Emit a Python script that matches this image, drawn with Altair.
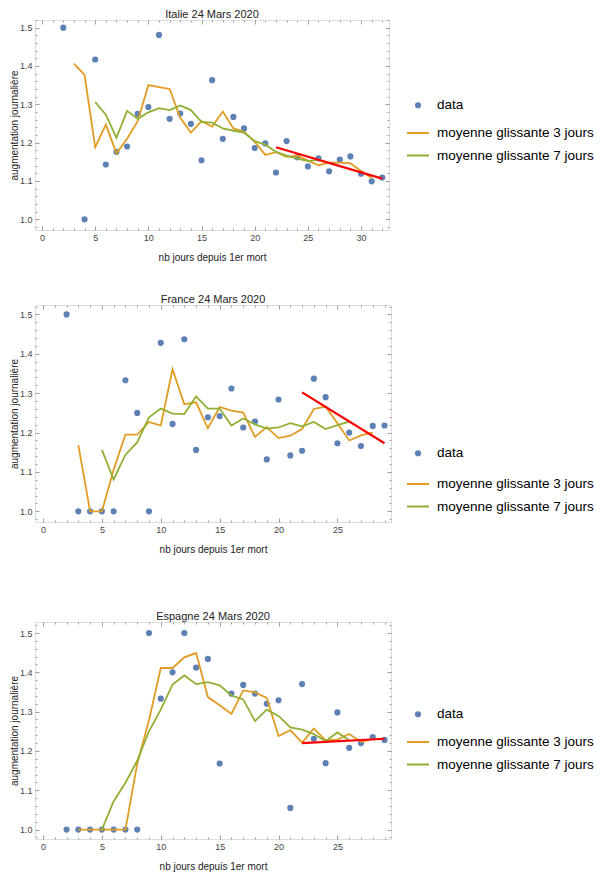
import altair as alt
import pandas as pd

FONT = "Liberation Sans"
C_DATA = "#5E81B5"
C_M3 = "#E19C24"
C_M7 = "#8FB032"
C_FIT = "#FF0000"
L_DATA = "data"
L_M3 = "moyenne glissante 3 jours"
L_M7 = "moyenne glissante 7 jours"
X_TITLE = "nb jours depuis 1er mort"
Y_TITLE = "augmentation journalière"

# ---------------- Italie ----------------
it_x = [2, 4] + list(range(5, 33))
it_y = [1.500, 1.000, 1.417, 1.143, 1.176, 1.190, 1.275, 1.293, 1.481, 1.262,
        1.276, 1.249, 1.154, 1.363, 1.210, 1.267, 1.237, 1.186, 1.198, 1.122,
        1.204, 1.162, 1.138, 1.159, 1.125, 1.156, 1.164, 1.119, 1.099, 1.109]
it_m3_x = list(range(3, 32))
it_m3_y = [1.406, 1.377, 1.188, 1.247, 1.172, 1.210, 1.256, 1.350, 1.345, 1.340,
           1.265, 1.226, 1.256, 1.242, 1.281, 1.237, 1.228, 1.202, 1.168, 1.175,
           1.163, 1.166, 1.153, 1.141, 1.148, 1.148, 1.146, 1.126, 1.108]
it_m7_x = list(range(5, 29))
it_m7_y = [1.306, 1.273, 1.213, 1.283, 1.262, 1.279, 1.290, 1.285, 1.297, 1.285,
           1.254, 1.252, 1.237, 1.231, 1.226, 1.204, 1.195, 1.176, 1.166, 1.158,
           1.152, 1.155, 1.147, 1.139]
it_fit_x = [22, 32]
it_fit_y = [1.188, 1.106]

# ---------------- France ----------------
fr_x = list(range(2, 30))
fr_y = [1.500, 1.000, 1.000, 1.000, 1.000, 1.333, 1.250, 1.000, 1.428, 1.222,
        1.437, 1.156, 1.239, 1.242, 1.312, 1.213, 1.228, 1.132, 1.284, 1.142,
        1.154, 1.337, 1.290, 1.173, 1.200, 1.166, 1.217, 1.218]
fr_m3_x = list(range(3, 29))
fr_m3_y = [1.168, 1.000, 1.000, 1.106, 1.195, 1.195, 1.227, 1.218, 1.361, 1.272,
           1.277, 1.211, 1.265, 1.256, 1.251, 1.189, 1.214, 1.186, 1.192, 1.209,
           1.260, 1.266, 1.224, 1.180, 1.193, 1.200]
fr_m7_x = list(range(5, 27))
fr_m7_y = [1.156, 1.081, 1.144, 1.175, 1.239, 1.261, 1.248, 1.247, 1.292, 1.261,
           1.261, 1.218, 1.236, 1.221, 1.210, 1.213, 1.224, 1.216, 1.227, 1.209,
           1.219, 1.228]
fr_fit_x = [22, 29]
fr_fit_y = [1.302, 1.173]

# ---------------- Espagne ----------------
es_x = list(range(2, 30))
es_y = [1.000, 1.000, 1.000, 1.000, 1.000, 1.000, 1.000, 1.500, 1.333, 1.400,
        1.500, 1.412, 1.434, 1.168, 1.346, 1.368, 1.346, 1.320, 1.329, 1.055,
        1.370, 1.231, 1.169, 1.298, 1.208, 1.220, 1.235, 1.228]
es_m3_x = list(range(3, 29))
es_m3_y = [1.000, 1.000, 1.000, 1.000, 1.000, 1.167, 1.278, 1.411, 1.411, 1.438,
           1.449, 1.337, 1.316, 1.294, 1.354, 1.349, 1.335, 1.238, 1.253, 1.221,
           1.257, 1.227, 1.229, 1.243, 1.223, 1.230]
es_m7_x = list(range(5, 27))
es_m7_y = [1.000, 1.072, 1.119, 1.175, 1.250, 1.305, 1.369, 1.392, 1.370, 1.375,
           1.367, 1.341, 1.331, 1.276, 1.305, 1.289, 1.260, 1.254, 1.243, 1.225,
           1.247, 1.227]
es_fit_x = [22, 29]
es_fit_y = [1.220, 1.231]

# axis tick values
X_MAJOR = [0, 5, 10, 15, 20, 25, 30]
X_MINOR = list(range(0, 33))
Y_MAJOR = [1.0, 1.1, 1.2, 1.3, 1.4, 1.5]
Y_MINOR = [round(0.98 + 0.02 * i, 2) for i in range(28)]

LEG_FS = 13.5


def ax(orient, major, labels=False, title=None, fmt="d"):
    horiz = orient in ("top", "bottom")
    if horiz:
        vals = X_MAJOR if major else X_MINOR
    else:
        vals = Y_MAJOR if major else Y_MINOR
    size = 4 if major else 2
    kw = dict(orient=orient, values=vals, tickSize=size, offset=-size,
              domain=False, grid=False, ticks=True, tickColor="#a0a0a0",
              tickWidth=1, labels=labels, title=title)
    if labels:
        kw.update(labelFont=FONT, labelFontSize=9, labelColor="#444444",
                  labelPadding=3, labelFlush=False,
                  labelOverlap=False, format=fmt)
    if title:
        kw.update(titleFont=FONT, titleFontSize=10, titleFontWeight="normal",
                  titleColor="#222222", titlePadding=(10 if horiz else 0))
    return alt.Axis(**kw)


def panel(title, px, py, m3x, m3y, m7x, m7y, fx, fy, xdom, ydom, w, h,
          pt_y, ln_y):
    pts = pd.DataFrame({"x": px, "y": py, "s": L_DATA})
    lines = pd.concat([
        pd.DataFrame({"x": m3x, "y": m3y, "s": L_M3}),
        pd.DataFrame({"x": m7x, "y": m7y, "s": L_M7}),
    ])
    fit = pd.DataFrame({"x": fx, "y": fy})
    xs = alt.Scale(domain=xdom, nice=False, zero=False)
    ys = alt.Scale(domain=ydom, nice=False, zero=False)

    ghost = alt.Chart(pts).mark_circle(opacity=0).encode(
        x=alt.X("x:Q", scale=xs, axis=ax("top", False)),
        y=alt.Y("y:Q", scale=ys, axis=ax("right", False)),
    )
    l_pts = alt.Chart(pts).mark_circle(size=38, opacity=1).encode(
        x=alt.X("x:Q", scale=xs, axis=ax("bottom", True, True, X_TITLE, "d")),
        y=alt.Y("y:Q", scale=ys, axis=ax("left", True, True, Y_TITLE, ".1f")),
        fill=alt.Fill("s:N", scale=alt.Scale(domain=[L_DATA], range=[C_DATA]),
                      legend=alt.Legend(title=None, orient="none",
                                        legendX=376.25, legendY=pt_y,
                                        symbolType="circle", symbolSize=38,
                                        symbolStrokeWidth=0,
                                        labelFont=FONT, labelFontSize=LEG_FS,
                                        labelColor="#000000", labelOffset=12.25,
                                        padding=0)),
    )
    l_lines = alt.Chart(lines).mark_line(strokeWidth=1.8).encode(
        x=alt.X("x:Q", scale=xs, axis=ax("bottom", False)),
        y=alt.Y("y:Q", scale=ys, axis=ax("left", False)),
        stroke=alt.Stroke("s:N",
                          scale=alt.Scale(domain=[L_M3, L_M7], range=[C_M3, C_M7]),
                          legend=alt.Legend(title=None, orient="none",
                                            legendX=371, legendY=ln_y,
                                            symbolType="stroke", symbolSize=484,
                                            symbolStrokeWidth=2,
                                            labelFont=FONT, labelFontSize=LEG_FS,
                                            labelColor="#000000", labelOffset=7,
                                            rowPadding=3.5, padding=0)),
    )
    l_fit = alt.Chart(fit).mark_line(color=C_FIT, strokeWidth=2.2).encode(
        x=alt.X("x:Q", scale=xs, axis=ax("top", True)),
        y=alt.Y("y:Q", scale=ys, axis=ax("right", True)),
    )
    return alt.layer(ghost, l_pts, l_lines, l_fit).resolve_axis(
        x="independent", y="independent"
    ).properties(
        width=w, height=h,
        title=alt.Title(title, font=FONT, fontSize=11, fontWeight="normal",
                        color="#222222", anchor="middle", frame="group",
                        offset=0),
    )


it = panel("Italie 24 Mars 2020", it_x, it_y, it_m3_x, it_m3_y, it_m7_x, it_m7_y,
           it_fit_x, it_fit_y, [-0.66, 32.63], [0.972, 1.52], 354, 210, 78.5, 101)
fr = panel("France 24 Mars 2020", fr_x, fr_y, fr_m3_x, fr_m3_y, fr_m7_x, fr_m7_y,
           fr_fit_x, fr_fit_y, [-0.68, 29.55], [0.973, 1.524], 356, 217, 141.5, 167)
es = panel("Espagne 24 Mars 2020", es_x, es_y, es_m3_x, es_m3_y, es_m7_x, es_m7_y,
           es_fit_x, es_fit_y, [-0.68, 29.55], [0.976, 1.528], 356, 217, 85.5, 108)

top = alt.vconcat(it, fr, spacing=30).resolve_scale(
    fill="independent", stroke="independent"
).resolve_legend(fill="independent", stroke="independent")

chart = alt.vconcat(top, es, spacing=55).resolve_scale(
    fill="independent", stroke="independent"
).resolve_legend(
    fill="independent", stroke="independent"
).properties(
    padding={"left": 0, "top": 0, "right": 0, "bottom": 0}
).configure_view(
    stroke="#b4b4b4", strokeWidth=1
).configure(font=FONT, background="white")

chart.save("out.html", embed_options={"renderer": "svg", "actions": False})
